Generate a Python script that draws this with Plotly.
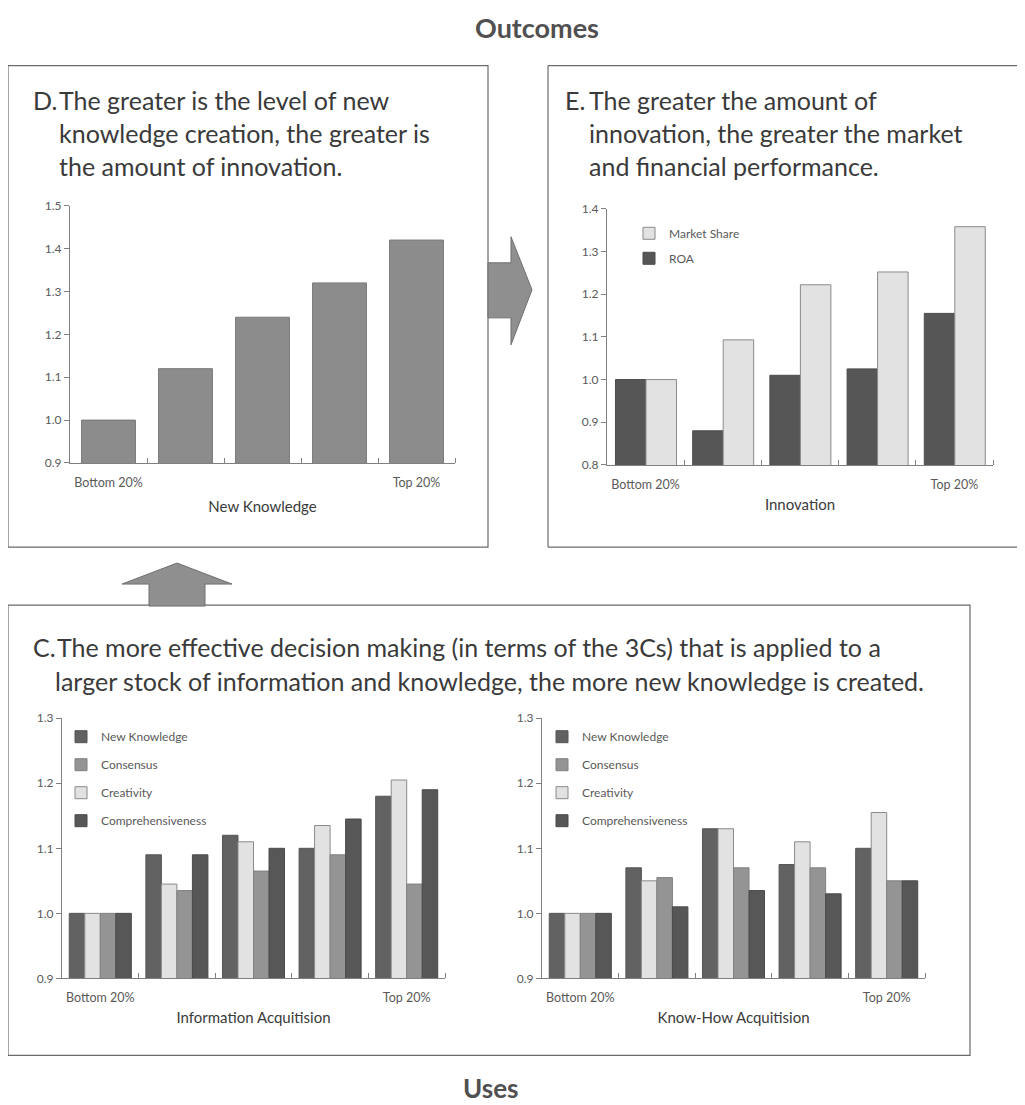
import plotly.graph_objects as go

W, H = 1025, 1105
# the page shows the figure shifted (8 px right, ~16 px down) and very slightly
# squeezed vertically; these helpers convert reference pixel positions to paper units
OX, OY, SY = 8.0, 16.4, 0.9856


def px(x):
    return (x - OX) / W


def py(y):
    return 1 - ((y - OY) / SY) / H


# ---------------- data ----------------
CATS = [0, 1, 2, 3, 4]
TICK_TEXT = ["Bottom 20%", "", "", "", "Top 20%"]

D_INNOVATION = [1.0, 1.12, 1.24, 1.32, 1.42]

E_ROA = [1.0, 0.88, 1.01, 1.025, 1.155]
E_MARKET_SHARE = [1.0, 1.093, 1.222, 1.252, 1.358]

IA_NEW_KNOWLEDGE = [1.0, 1.09, 1.12, 1.10, 1.18]
IA_CREATIVITY = [1.0, 1.045, 1.11, 1.135, 1.205]
IA_CONSENSUS = [1.0, 1.035, 1.065, 1.09, 1.045]
IA_COMPREHENSIVENESS = [1.0, 1.09, 1.10, 1.145, 1.19]

KH_NEW_KNOWLEDGE = [1.0, 1.07, 1.13, 1.075, 1.10]
KH_CREATIVITY = [1.0, 1.05, 1.13, 1.11, 1.155]
KH_CONSENSUS = [1.0, 1.055, 1.07, 1.07, 1.05]
KH_COMPREHENSIVENESS = [1.0, 1.01, 1.035, 1.03, 1.05]

D_YTICKS = [0.9, 1.0, 1.1, 1.2, 1.3, 1.4, 1.5]
E_YTICKS = [0.8, 0.9, 1.0, 1.1, 1.2, 1.3, 1.4]
C_YTICKS = [0.9, 1.0, 1.1, 1.2, 1.3]

# ---------------- style ----------------
FONT = "Lato"
TXT = "#3a3a3a"
TICKC = "#5a5a5a"
AXC = "#808080"
C_NK = "#626262"
C_CONS = "#949494"
C_CREA = "#e2e2e2"
C_COMP = "#575757"
C_D = "#8c8c8c"
C_ROA = "#565656"
C_MS = "#e2e2e2"

fig = go.Figure()

fig.add_trace(go.Bar(x=CATS, y=D_INNOVATION, xaxis="x", yaxis="y", width=0.7,
                     marker=dict(color=C_D, line=dict(color="#7a7a7a", width=1)),
                     showlegend=False, name="Innovation"))

fig.add_trace(go.Bar(x=CATS, y=E_ROA, xaxis="x2", yaxis="y2", width=0.395, offset=-0.39,
                     marker=dict(color=C_ROA, line=dict(color="#4a4a4a", width=1)),
                     name="ROA", legend="legend", legendrank=2, legendgroup="e2"))
fig.add_trace(go.Bar(x=CATS, y=E_MARKET_SHARE, xaxis="x2", yaxis="y2", width=0.395, offset=0.005,
                     marker=dict(color=C_MS, line=dict(color="#8a8a8a", width=1)),
                     name="Market Share", legend="legend", legendrank=1, legendgroup="e1"))


def c_traces(xa, ya, leg, nk, crea, cons, comp):
    spec = [
        ("New Knowledge", nk, C_NK, "#555555", -0.405, 1),
        ("Creativity", crea, C_CREA, "#8a8a8a", -0.2025, 3),
        ("Consensus", cons, C_CONS, "#808080", 0.0, 2),
        ("Comprehensiveness", comp, C_COMP, "#4a4a4a", 0.2025, 4),
    ]
    for name, vals, col, lc, off, rank in spec:
        fig.add_trace(go.Bar(x=CATS, y=vals, xaxis=xa, yaxis=ya, width=0.2025, offset=off,
                             marker=dict(color=col, line=dict(color=lc, width=1)),
                             name=name, legend=leg, legendrank=rank,
                             legendgroup=leg + name))


c_traces("x3", "y3", "legend2", IA_NEW_KNOWLEDGE, IA_CREATIVITY, IA_CONSENSUS, IA_COMPREHENSIVENESS)
c_traces("x4", "y4", "legend3", KH_NEW_KNOWLEDGE, KH_CREATIVITY, KH_CONSENSUS, KH_COMPREHENSIVENESS)


def xax(x0, x1, y_anchor, title, standoff):
    return dict(
        domain=[px(x0), px(x1)], anchor=y_anchor, range=[-0.5, 4.5],
        tickmode="array", tickvals=CATS, ticktext=TICK_TEXT, ticks="",
        tickfont=dict(family=FONT, size=12.5, color=TICKC), ticklabelstandoff=8,
        showline=True, linecolor=AXC, linewidth=1, showgrid=False, zeroline=False,
        minor=dict(tickmode="array", tickvals=[0.5, 1.5, 2.5, 3.5, 4.5], ticks="inside",
                   ticklen=5, tickcolor=AXC, showgrid=False),
        title=dict(text=title, font=dict(family=FONT, size=15, color=TXT), standoff=standoff),
        fixedrange=True,
    )


def yax(y0, y1, x_anchor, rng, tv):
    return dict(
        domain=[py(y1), py(y0)], anchor=x_anchor, range=rng,
        tickmode="array", tickvals=tv, tickformat=".1f", ticks="outside", ticklen=5,
        tickcolor=AXC, tickfont=dict(family=FONT, size=12, color=TICKC),
        showline=True, linecolor=AXC, linewidth=1, showgrid=False, zeroline=False,
        fixedrange=True,
    )


legfont = dict(family=FONT, size=12, color=TICKC)

fig.update_layout(
    width=W, height=H, margin=dict(l=0, r=0, t=0, b=0),
    paper_bgcolor="white", plot_bgcolor="white", barmode="group",
    font=dict(family=FONT, color=TXT),
    xaxis=xax(70, 455, "y", "New Knowledge", 12),
    yaxis=yax(206, 463, "x", [0.9, 1.5], D_YTICKS),
    xaxis2=xax(607, 993, "y2", "Innovation", 8),
    yaxis2=yax(209, 465, "x2", [0.8, 1.4], E_YTICKS),
    xaxis3=xax(62, 445, "y3", "Information Acquitision", 8),
    yaxis3=yax(718, 978, "x3", [0.9, 1.3], C_YTICKS),
    xaxis4=xax(542, 925, "y4", "Know-How Acquitision", 8),
    yaxis4=yax(718, 978, "x4", [0.9, 1.3], C_YTICKS),
    legend=dict(x=px(629), y=py(219), xanchor="left", yanchor="top", font=legfont,
                bgcolor="rgba(0,0,0,0)", itemwidth=30, tracegroupgap=6, itemclick=False),
    legend2=dict(x=px(61), y=py(722), xanchor="left", yanchor="top", font=legfont,
                 bgcolor="rgba(0,0,0,0)", itemwidth=30, tracegroupgap=9, itemclick=False),
    legend3=dict(x=px(542), y=py(722), xanchor="left", yanchor="top", font=legfont,
                 bgcolor="rgba(0,0,0,0)", itemwidth=30, tracegroupgap=9, itemclick=False),
)

BOX = dict(color="#6a6a6a", width=1.2)
shapes = [
    dict(type="rect", xref="paper", yref="paper", x0=px(8), x1=px(488), y0=py(547), y1=py(66), line=BOX),
    dict(type="line", xref="paper", yref="paper", x0=px(548), x1=px(1040), y0=py(66), y1=py(66), line=BOX),
    dict(type="line", xref="paper", yref="paper", x0=px(548), x1=px(548), y0=py(66), y1=py(547), line=BOX),
    dict(type="line", xref="paper", yref="paper", x0=px(548), x1=px(1040), y0=py(547), y1=py(547), line=BOX),
    dict(type="rect", xref="paper", yref="paper", x0=px(8), x1=px(970), y0=py(1055), y1=py(605), line=BOX),
]


def poly(points):
    return "M " + " L ".join(f"{px(a):.5f},{py(b):.5f}" for a, b in points) + " Z"


right_arrow = [(488, 263), (511, 263), (511, 237), (532, 290), (511, 345), (511, 318), (488, 318)]
up_arrow = [(149, 606), (149, 584), (122, 584), (177, 563), (232, 584), (205, 584), (205, 606)]
for pts in (right_arrow, up_arrow):
    shapes.append(dict(type="path", xref="paper", yref="paper", path=poly(pts),
                       fillcolor="#8f8f8f", line=dict(color="#707070", width=1)))
fig.update_layout(shapes=shapes)

ann = []


def txt(x, y, s, size=25, anchor="left", bold=False, color=TXT):
    ann.append(dict(xref="paper", yref="paper", x=px(x), y=py(y), text=(f"<b>{s}</b>" if bold else s),
                    showarrow=False, xanchor=anchor, yanchor="middle",
                    font=dict(family=FONT, size=size, color=color)))


txt(537, 28, "Outcomes", size=27, anchor="center", bold=True, color="#505050")
txt(490, 1088, "Uses", size=26, anchor="center", bold=True, color="#505050")

txt(31, 100, "D.")
for i, s in enumerate(["The greater is the level of new",
                       "knowledge creation, the greater is",
                       "the amount of innovation."]):
    txt(57, 100 + 33 * i, s)

txt(563, 100, "E.")
for i, s in enumerate(["The greater the amount of",
                       "innovation, the greater the market",
                       "and financial performance."]):
    txt(587, 100 + 33 * i, s)

txt(31, 647, "C.")
txt(55, 647, "The more effective decision making (in terms of the 3Cs) that is applied to a")
txt(53, 681, "larger stock of information and knowledge, the more new knowledge is created.")

fig.update_layout(annotations=ann)

fig.write_html("out.html")
